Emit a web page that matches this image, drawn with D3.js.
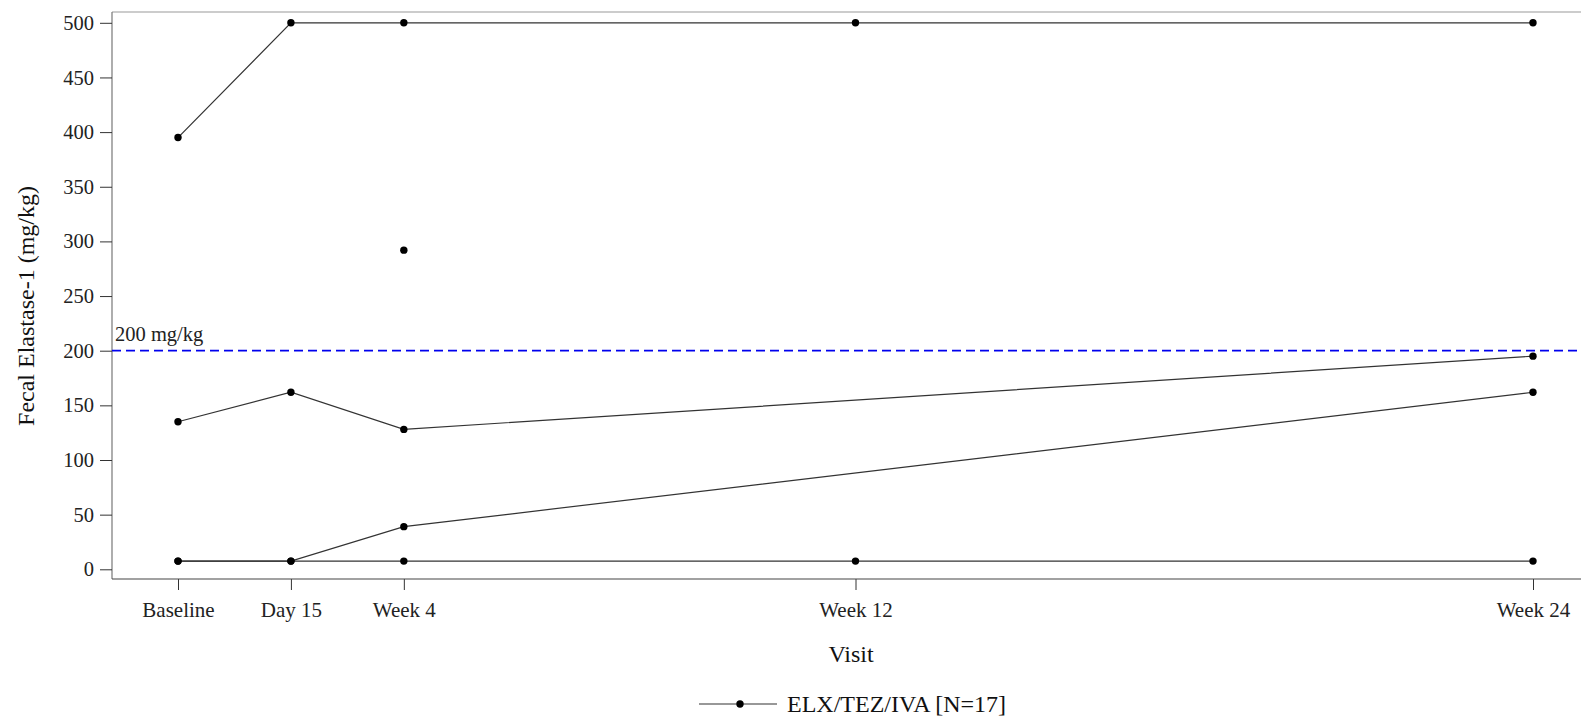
<!DOCTYPE html>
<html>
<head>
<meta charset="utf-8">
<script src="https://cdn.jsdelivr.net/npm/d3@7"></script>
<style>
  html, body { margin: 0; padding: 0; background: #fff; }
  svg { display: block; font-family: "Liberation Serif", "Times New Roman", serif; }
</style>
</head>
<body>
<svg id="chart" width="1581" height="716"></svg>
<script>
// Visits and their study day
const visitLabels = ["Baseline", "Day 15", "Week 4", "Week 12", "Week 24"];
const visitDays = [1, 15, 29, 85, 169];

// Fecal elastase-1 (mg/kg) per subject track, null = no assessment
const subjectA = [395, 500, 500, 500, 500];
const subjectB = [135, 162, 128, null, 195];
const subjectC = [7.5, 7.5, 39, null, 162];
const subjectD = [7.5, 7.5, 7.5, 7.5, 7.5];
const subjectE = [null, null, 292, null, null];
const subjects = [subjectA, subjectB, subjectC, subjectD, subjectE];

const yTicks = [0, 50, 100, 150, 200, 250, 300, 350, 400, 450, 500];
const thresholdValue = 200;
const thresholdLabel = "200 mg/kg";
const legendLabel = "ELX/TEZ/IVA [N=17]";

const svg = d3.select("#chart");

const frame = { left: 112, right: 1600, top: 12, bottom: 579 };

const x = d3.scaleLinear().domain([1, 169]).range([178, 1533]);
const y = d3.scaleLinear().domain([0, 500]).range([569.3, 22.8]);

// plot frame
svg.append("line")
  .attr("x1", frame.left).attr("x2", frame.right)
  .attr("y1", frame.top).attr("y2", frame.top)
  .attr("stroke", "#999").attr("stroke-width", 1.2);
svg.append("line")
  .attr("x1", frame.left).attr("x2", frame.left)
  .attr("y1", frame.top).attr("y2", frame.bottom)
  .attr("stroke", "#777").attr("stroke-width", 1.2);

// y axis
const yAxis = svg.append("g")
  .attr("transform", `translate(${frame.left},0)`)
  .call(d3.axisLeft(y).tickValues(yTicks).tickSize(12).tickPadding(6).tickFormat(d3.format("d")));
yAxis.select(".domain").remove();
yAxis.selectAll(".tick line").attr("stroke", "#333");
yAxis.selectAll(".tick text")
  .attr("font-size", 20.5).attr("fill", "#222")
  .attr("font-family", "Liberation Serif, serif");

// x axis
const xAxis = svg.append("g")
  .attr("transform", `translate(0,${frame.bottom})`)
  .call(d3.axisBottom(x).tickValues(visitDays).tickSize(11).tickPadding(12)
    .tickFormat((d, i) => visitLabels[i]));
xAxis.select(".domain").remove();
svg.append("line")
  .attr("x1", frame.left).attr("x2", frame.right)
  .attr("y1", frame.bottom).attr("y2", frame.bottom)
  .attr("stroke", "#444").attr("stroke-width", 1.2);
xAxis.selectAll(".tick line").attr("stroke", "#333");
xAxis.selectAll(".tick text")
  .attr("font-size", 21).attr("fill", "#222")
  .attr("font-family", "Liberation Serif, serif");

// reference line at 200 mg/kg
svg.append("line")
  .attr("x1", frame.left).attr("x2", frame.right)
  .attr("y1", y(thresholdValue)).attr("y2", y(thresholdValue))
  .attr("stroke", "#0000ee").attr("stroke-width", 1.7)
  .attr("stroke-dasharray", "9,5");
svg.append("text")
  .attr("x", frame.left + 3).attr("y", y(thresholdValue) - 10)
  .attr("font-size", 20.5).attr("fill", "#222")
  .text(thresholdLabel);

// subject profiles
const line = d3.line()
  .x(d => x(d.day))
  .y(d => y(d.value));

const profiles = subjects.map(vals =>
  vals.map((v, i) => ({ day: visitDays[i], value: v })).filter(d => d.value !== null));

svg.append("g").selectAll("path")
  .data(profiles.filter(p => p.length > 1))
  .join("path")
  .attr("d", line)
  .attr("fill", "none")
  .attr("stroke", "#333")
  .attr("stroke-width", 1.2);

svg.append("g").selectAll("circle")
  .data(profiles.flat())
  .join("circle")
  .attr("cx", d => x(d.day))
  .attr("cy", d => y(d.value))
  .attr("r", 3.7)
  .attr("fill", "#000");

// axis titles
svg.append("text")
  .attr("transform", `translate(34,306) rotate(-90)`)
  .attr("text-anchor", "middle")
  .attr("font-size", 24).attr("fill", "#111")
  .text("Fecal Elastase-1 (mg/kg)");

svg.append("text")
  .attr("x", 851).attr("y", 662)
  .attr("text-anchor", "middle")
  .attr("font-size", 24).attr("fill", "#111")
  .text("Visit");

// legend
const legendY = 704;
svg.append("line")
  .attr("x1", 699).attr("x2", 777)
  .attr("y1", legendY).attr("y2", legendY)
  .attr("stroke", "#333").attr("stroke-width", 1.1);
svg.append("circle")
  .attr("cx", 740).attr("cy", legendY).attr("r", 3.7).attr("fill", "#000");
svg.append("text")
  .attr("x", 787).attr("y", legendY + 8)
  .attr("font-size", 24).attr("fill", "#111")
  .text(legendLabel);
</script>
</body>
</html>
